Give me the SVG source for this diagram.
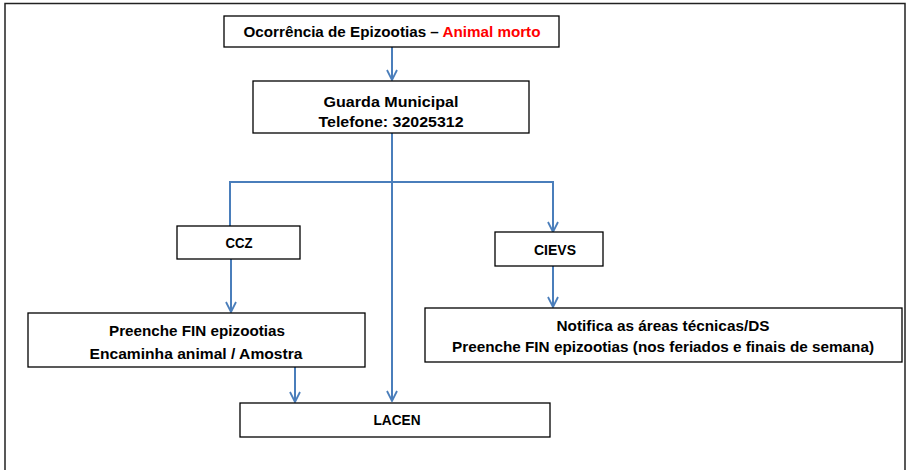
<svg xmlns="http://www.w3.org/2000/svg" width="907" height="470" viewBox="0 0 907 470">
<style>
.box{fill:#fff;stroke:#000;stroke-width:1.3}
.t{font-family:"Liberation Sans",Arial,sans-serif;font-weight:bold;font-size:15px;fill:#000;text-anchor:middle}
.c{fill:none;stroke:#4A7EBB;stroke-width:2}
</style>
<defs>
<marker id="ah" viewBox="0 0 12 12" refX="11" refY="6" markerWidth="12" markerHeight="12" markerUnits="userSpaceOnUse" orient="auto">
<polyline points="1,1 11,6 1,11" fill="none" stroke="#4A7EBB" stroke-width="1.8"/>
</marker>
</defs>
<rect x="0" y="0" width="907" height="470" fill="#fff"/>
<path d="M5,472 V3.5 H905 V472" fill="none" stroke="#222" stroke-width="1.5"/>
<g id="connectors">
<line class="c" x1="392" y1="47" x2="392" y2="80" marker-end="url(#ah)"/>
<line class="c" x1="392" y1="133" x2="392" y2="401" marker-end="url(#ah)"/>
<polyline class="c" points="230,226 230,182 553,182 553,232" marker-end="url(#ah)"/>
<line class="c" x1="231" y1="259" x2="231" y2="312" marker-end="url(#ah)"/>
<line class="c" x1="553" y1="266" x2="553" y2="307" marker-end="url(#ah)"/>
<line class="c" x1="295" y1="367" x2="295" y2="402" marker-end="url(#ah)"/>
</g>
<g id="ocorrencia">
<rect class="box" x="224" y="16" width="335" height="31"/>
<text class="t" x="392" y="37" textLength="297" lengthAdjust="spacingAndGlyphs">Ocorrência de Epizootias – <tspan fill="#FF0000">Animal morto</tspan></text>
</g>
<g id="guarda">
<rect class="box" x="253" y="81" width="276" height="52"/>
<text class="t" x="391" y="107" textLength="135" lengthAdjust="spacingAndGlyphs">Guarda Municipal</text>
<text class="t" x="391" y="127" textLength="145" lengthAdjust="spacingAndGlyphs">Telefone: 32025312</text>
</g>
<g id="ccz">
<rect class="box" x="177" y="226" width="123" height="33"/>
<text class="t" x="239" y="248" textLength="27" lengthAdjust="spacingAndGlyphs">CCZ</text>
</g>
<g id="cievs">
<rect class="box" x="495" y="232" width="108" height="34"/>
<text class="t" x="555" y="255" textLength="42" lengthAdjust="spacingAndGlyphs">CIEVS</text>
</g>
<g id="preenche">
<rect class="box" x="28" y="313" width="337" height="54"/>
<text class="t" x="197" y="336" textLength="176" lengthAdjust="spacingAndGlyphs">Preenche FIN epizootias</text>
<text class="t" x="196" y="359" textLength="213" lengthAdjust="spacingAndGlyphs">Encaminha animal / Amostra</text>
</g>
<g id="notifica">
<rect class="box" x="425" y="308" width="477" height="54"/>
<text class="t" x="663" y="331" textLength="213" lengthAdjust="spacingAndGlyphs">Notifica as áreas técnicas/DS</text>
<text class="t" x="663" y="352" textLength="422" lengthAdjust="spacingAndGlyphs">Preenche FIN epizootias (nos feriados e finais de semana)</text>
</g>
<g id="lacen">
<rect class="box" x="240" y="403" width="310" height="34"/>
<text class="t" x="397" y="425" textLength="47" lengthAdjust="spacingAndGlyphs">LACEN</text>
</g>
</svg>
